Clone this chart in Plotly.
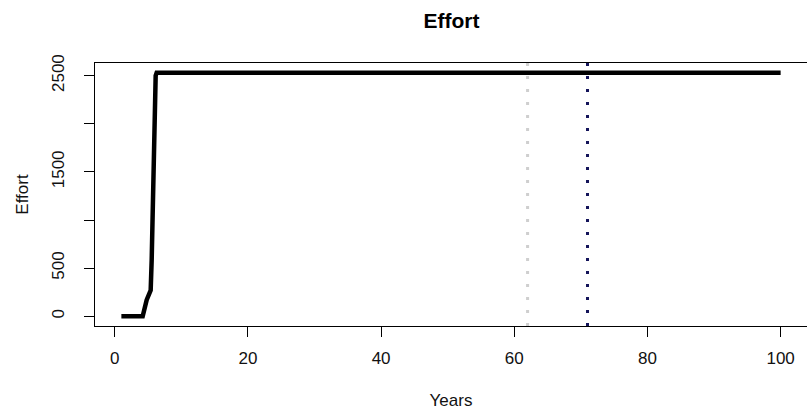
import plotly.graph_objects as go

# Effort trajectory over the simulation (years, effort units)
years = [1.0, 2.0, 3.0, 4.2, 4.8, 5.4, 5.55, 5.7, 5.85, 6.0, 6.15, 6.3, 10, 20, 30, 40, 50, 60, 70, 80, 90, 100]
effort = [0, 0, 0, 0, 170, 270, 580, 1120, 1690, 2240, 2500, 2530, 2530, 2530, 2530, 2530, 2530, 2530, 2530, 2530, 2530, 2530]

# Reference years marked with vertical lines
ref_year_grey = 62
ref_year_navy = 71

x_ticks = [0, 20, 40, 60, 80, 100]
y_ticks = [0, 500, 1000, 1500, 2000, 2500]
y_ticktext = ["0", "500", "", "1500", "", "2500"]

FONT = "Liberation Sans, Arial, sans-serif"

fig = go.Figure()
fig.add_trace(go.Scatter(x=years, y=effort, mode="lines",
                         line=dict(color="black", width=4.5),
                         hoverinfo="skip", showlegend=False))

fig.add_vline(x=ref_year_grey, line=dict(color="#cfcfcf", width=3, dash="3px,10px"))
fig.add_vline(x=ref_year_navy, line=dict(color="#14145a", width=3, dash="3px,10px"))

x_min, x_max = 1, 100
y_min, y_max = 0, 2530
xpad = 0.04 * (x_max - x_min)
ypad = 0.04 * (y_max - y_min)

fig.update_layout(
    width=807, height=414,
    margin=dict(l=95, r=0, t=63, b=88),
    paper_bgcolor="white", plot_bgcolor="white",
    font=dict(family=FONT, size=17, color="#111111"),
    title=dict(text="<b>Effort</b>", x=451.5 / 807, xanchor="center",
               y=1 - 20.5 / 414, yanchor="middle", yref="container",
               font=dict(size=21, family=FONT, color="black")),
    xaxis=dict(range=[x_min - xpad, x_max + xpad], tickvals=x_ticks,
               showgrid=False, zeroline=False,
               showline=True, mirror=True, linecolor="black", linewidth=1,
               ticks="outside", ticklen=10, tickcolor="black", tickwidth=1,
               ticklabelstandoff=7,
               title=dict(text="Years", standoff=26, font=dict(size=17))),
    yaxis=dict(range=[y_min - ypad, y_max + ypad], tickvals=y_ticks,
               ticktext=y_ticktext, tickangle=-90,
               showgrid=False, zeroline=False,
               showline=True, mirror=True, linecolor="black", linewidth=1,
               ticks="outside", ticklen=10, tickcolor="black", tickwidth=1,
               ticklabelstandoff=13,
               title=dict(text="Effort", standoff=16, font=dict(size=17))),
)

fig.write_html("out.html")
